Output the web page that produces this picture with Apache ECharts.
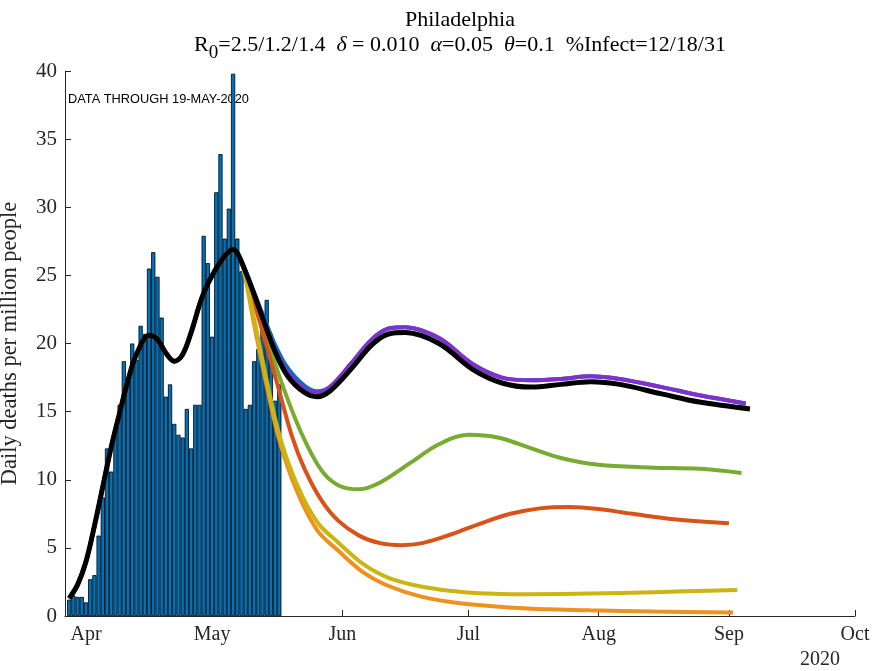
<!DOCTYPE html>
<html><head><meta charset="utf-8">
<script src="https://cdn.jsdelivr.net/npm/echarts@6/dist/echarts.min.js"></script>
<style>html,body{margin:0;padding:0;background:#fff}#c{width:873px;height:671px}</style>
</head><body><div id="c"></div>
<script>
// ---- data ----
const barDates = ['2020-03-28','2020-03-29','2020-03-30','2020-03-31','2020-04-01','2020-04-02','2020-04-03','2020-04-04','2020-04-05','2020-04-06',
  '2020-04-07','2020-04-08','2020-04-09','2020-04-10','2020-04-11','2020-04-12','2020-04-13','2020-04-14','2020-04-15','2020-04-16',
  '2020-04-17','2020-04-18','2020-04-19','2020-04-20','2020-04-21','2020-04-22','2020-04-23','2020-04-24','2020-04-25','2020-04-26',
  '2020-04-27','2020-04-28','2020-04-29','2020-04-30','2020-05-01','2020-05-02','2020-05-03','2020-05-04','2020-05-05','2020-05-06',
  '2020-05-07','2020-05-08','2020-05-09','2020-05-10','2020-05-11','2020-05-12','2020-05-13','2020-05-14','2020-05-15','2020-05-16','2020-05-17'];
const barValues = [1.2,1.5,1.4,1.4,1.0,2.7,3.0,5.9,8.7,12.3,
  10.6,13.8,15.5,18.7,17.3,20.0,18.8,21.3,20.7,25.5,
  26.7,24.9,21.9,16.1,17.0,14.1,13.3,13.1,15.2,12.3,
  15.5,15.5,27.9,25.9,20.5,31.1,33.9,27.7,29.9,39.8,
  27.7,25.3,15.2,15.5,18.7,19.6,21.5,23.2,20.7,15.8,17.0];

// shared model fit (all scenarios) up to the divergence
const fitDates = ['2020-03-28','2020-03-30','2020-04-01','2020-04-03','2020-04-05','2020-04-07','2020-04-09','2020-04-11','2020-04-13',
  '2020-04-16','2020-04-18','2020-04-20','2020-04-22','2020-04-24','2020-04-26','2020-04-29','2020-05-03','2020-05-06','2020-05-08'];
const fitValues = [1.3,2.3,4.0,6.6,9.5,12.4,14.9,17.3,19.2,20.6,20.3,19.3,18.7,19.2,20.8,23.7,26.0,26.9,26.0];

const blackDates = ['2020-05-13','2020-05-16','2020-05-19','2020-05-23','2020-05-26','2020-05-29','2020-06-03','2020-06-08','2020-06-12','2020-06-16',
  '2020-06-24','2020-07-02','2020-07-09','2020-07-16','2020-07-23','2020-07-30','2020-08-06','2020-08-16','2020-08-25','2020-09-06'];
const blackValues = [21.9,19.4,17.6,16.4,16.1,16.5,18.1,19.9,20.7,20.8,20.0,18.1,17.1,16.8,17.0,17.2,17.0,16.3,15.7,15.2];
const purpleDates = ['2020-05-13','2020-05-16','2020-05-19','2020-05-23','2020-05-26','2020-05-29','2020-06-03','2020-06-08','2020-06-12','2020-06-16',
  '2020-06-24','2020-07-02','2020-07-09','2020-07-16','2020-07-23','2020-07-30','2020-08-06','2020-08-16','2020-08-25','2020-09-05'];
const purpleValues = [22.0,19.6,17.9,16.7,16.4,16.8,18.5,20.3,21.1,21.2,20.4,18.5,17.5,17.3,17.4,17.6,17.4,16.8,16.2,15.6];
const blueValues = [22.2,19.9,18.2,16.9,16.5,16.8,18.5,20.3,21.1,21.2,20.4,18.5,17.5,17.3,17.4,17.6,17.4,16.8,16.2,15.6];

const greenDates = ['2020-05-11','2020-05-14','2020-05-17','2020-05-22','2020-05-27','2020-05-31','2020-06-05','2020-06-10','2020-06-17','2020-06-24',
  '2020-07-01','2020-07-08','2020-07-16','2020-07-23','2020-08-01','2020-08-13','2020-08-25','2020-09-04'];
const greenValues = [23.6,20.6,17.6,13.6,10.7,9.6,9.3,9.8,11.2,12.6,13.3,13.1,12.3,11.6,11.1,10.9,10.8,10.5];

const redDates = ['2020-05-11','2020-05-14','2020-05-17','2020-05-20','2020-05-23','2020-05-27','2020-05-31','2020-06-05','2020-06-10','2020-06-15',
  '2020-06-20','2020-06-27','2020-07-04','2020-07-11','2020-07-18','2020-07-25','2020-08-01','2020-08-09','2020-08-19','2020-09-01'];
const redValues = [23.0,19.8,16.5,13.2,10.8,8.5,7.0,5.9,5.35,5.2,5.35,6.0,6.8,7.5,7.9,8.0,7.85,7.5,7.1,6.8];

const yellowDates = ['2020-05-11','2020-05-14','2020-05-17','2020-05-21','2020-05-26','2020-05-31','2020-06-06','2020-06-12','2020-06-20','2020-06-30',
  '2020-07-15','2020-07-30','2020-08-14','2020-09-03'];
const yellowValues = [21.8,17.3,13.3,9.8,6.9,5.4,3.8,2.8,2.15,1.75,1.6,1.65,1.75,1.9];
const orangeDates = ['2020-05-11','2020-05-14','2020-05-17','2020-05-21','2020-05-26','2020-05-31','2020-06-06','2020-06-12','2020-06-20','2020-06-30',
  '2020-07-15','2020-07-30','2020-08-14','2020-09-02'];
const orangeValues = [21.4,16.9,12.9,9.3,6.3,4.8,3.2,2.2,1.4,0.9,0.55,0.42,0.33,0.25];

const tickDates = ['2020-04-01','2020-05-01','2020-06-01','2020-07-01','2020-08-01','2020-09-01','2020-10-01'];
const tickLabels = ['Apr','May','Jun','Jul','Aug','Sep','Oct'];

// ---- helpers ----
function ts(s){ const p = s.split('-').map(Number); return Date.UTC(p[0], p[1]-1, p[2]); }
function pairs(d, v){ return d.map((x,i)=>[ts(x), v[i]]); }
const fit = pairs(fitDates, fitValues);
const tickTs = tickDates.map(ts);

const serif = 'Liberation Serif';
const axisCol = '#262626';

function lineSeries(name, color, width, data, z){
  return { name, type:'line', data: fit.concat(data), smooth:0.35, showSymbol:false, symbol:'none',
    lineStyle:{color, width, cap:'butt'}, z, animation:false };
}

const chart = echarts.init(document.getElementById('c'), null, {renderer:'canvas'});
chart.setOption({
  animation:false,
  grid:{left:65, right:18, top:71, bottom:55, containLabel:false, outerBoundsMode:'none'},
  xAxis:{ type:'value', min: ts('2020-03-27'), max: ts('2020-10-01'),
    axisLine:{show:true, onZero:false, lineStyle:{color:axisCol, width:1}},
    axisTick:{show:true, inside:true, length:6, customValues: tickTs, lineStyle:{color:axisCol}},
    axisLabel:{ customValues: tickTs, formatter:(v)=>{ const i = tickTs.indexOf(v); return i>=0 ? tickLabels[i] : ''; },
      fontFamily:serif, fontSize:20, color:axisCol, margin:9, hideOverlap:false },
    splitLine:{show:false}
  },
  yAxis:{ type:'value', min:0, max:40, interval:5,
    name:'Daily deaths per million people', nameLocation:'middle', nameGap:43,
    nameTextStyle:{fontFamily:serif, fontSize:22.5, color:axisCol},
    axisLine:{show:true, lineStyle:{color:axisCol, width:1}},
    axisTick:{show:true, inside:true, length:6, lineStyle:{color:axisCol}},
    axisLabel:{fontFamily:serif, fontSize:21, color:axisCol, margin:8},
    splitLine:{show:false}
  },
  graphic:[
    {type:'text', x:460, y:20, style:{text:'Philadelphia', fontFamily:serif, fontSize:22, fill:'#000', align:'center', verticalAlign:'middle'}},
    {type:'text', x:460, y:47, style:{
      text:'{n|R}{s|0}{n|=2.5/1.2/1.4  }{i|δ}{n| = 0.010  }{i|α}{n|=0.05  }{i|θ}{n|=0.1  %Infect=12/18/31}',
      fontFamily:serif, fontSize:22, fill:'#000', align:'center', verticalAlign:'middle',
      rich:{ n:{fontFamily:serif, fontSize:22, fill:'#000', lineHeight:26, verticalAlign:'top'},
             i:{fontFamily:serif, fontSize:22, fontStyle:'italic', fill:'#000', lineHeight:26, verticalAlign:'top'},
             s:{fontFamily:serif, fontSize:19, fill:'#000', lineHeight:26, verticalAlign:'top', padding:[10,0,0,0]} } }},
    {type:'text', x:68, y:99, style:{text:'DATA THROUGH 19-MAY-2020', fontFamily:'Liberation Sans', fontSize:12.8, fill:'#000', align:'left', verticalAlign:'middle'}},
    {type:'text', x:820, y:660, style:{text:'2020', fontFamily:serif, fontSize:20, fill:axisCol, align:'center', verticalAlign:'middle'}}
  ],
  series:[
    { name:'deaths', type:'bar', data: pairs(barDates, barValues), barWidth:4.2,
      itemStyle:{color:'#0072BD', borderColor:'#000', borderWidth:0.8}, z:2, animation:false },
    lineSeries('blue', '#0072BD', 4, pairs(purpleDates, blueValues), 3),
    lineSeries('purple', '#8030CC', 4, pairs(purpleDates, purpleValues), 4),
    lineSeries('green', '#77AC30', 4, pairs(greenDates, greenValues), 5),
    lineSeries('red', '#D95319', 4, pairs(redDates, redValues), 6),
    lineSeries('orange', '#EF911E', 4, pairs(orangeDates, orangeValues), 7),
    lineSeries('yellow', '#CBB512', 4, pairs(yellowDates, yellowValues), 8),
    lineSeries('black', '#000000', 5, pairs(blackDates, blackValues), 9)
  ]
});
</script></body></html>
